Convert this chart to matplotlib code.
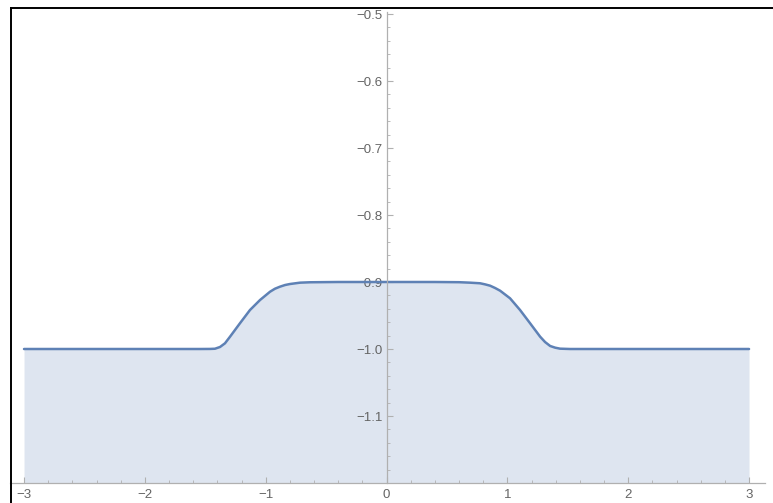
import matplotlib
matplotlib.use("Agg")
import matplotlib.pyplot as plt
from matplotlib.lines import Line2D
from matplotlib.ticker import MultipleLocator, FixedLocator

# Curve values
x_vals = [-3.0, -2.0, -1.6, -1.544, -1.461, -1.420, -1.378, -1.337, -1.295, -1.213, -1.130,
          -1.047, -0.964, -0.923, -0.882, -0.840, -0.799, -0.716, -0.633, -0.4, 0.0, 0.4,
          0.6, 0.691, 0.774, 0.815, 0.857, 0.899, 0.940, 1.022, 1.105, 1.188, 1.271, 1.312,
          1.354, 1.395, 1.436, 1.519, 1.6, 2.0, 3.0]
y_vals = [-1.0, -1.0, -1.0, -1.0, -0.9999, -0.9996, -0.9970, -0.9915, -0.9816, -0.9616, -0.9418,
          -0.9269, -0.9145, -0.9100, -0.9070, -0.9045, -0.9030, -0.9010, -0.9004, -0.9, -0.9, -0.9,
          -0.9003, -0.9010, -0.9019, -0.9035, -0.9055, -0.9090, -0.9130, -0.9243, -0.9418, -0.9616,
          -0.9816, -0.9896, -0.9955, -0.9980, -0.9995, -1.0, -1.0, -1.0, -1.0]
x_ticks = [-3, -2, -1, 0, 1, 2, 3]
y_ticks = [-1.1, -1.0, -0.9, -0.8, -0.7, -0.6, -0.5]
y_tick_labels = ["\u22121.1", "\u22121.0", "\u22120.9", "\u22120.8", "\u22120.7", "\u22120.6", "\u22120.5"]
x_tick_labels = ["\u22123", "\u22122", "\u22121", "0", "1", "2", "3"]

line_color = "#5E81B5"
axis_color = "#b0b0b0"
label_color = "#646464"

W, H = 773, 503
fig = plt.figure(figsize=(W / 100, H / 100), dpi=100)
left_px, right_px, top_px, bottom_px = 10, 765, 12, 483
ax = fig.add_axes([left_px / W, (H - bottom_px) / H, (right_px - left_px) / W, (bottom_px - top_px) / H])

ax.fill_between(x_vals, y_vals, -1.2, color=line_color, alpha=0.2, linewidth=0)
ax.plot(x_vals, y_vals, color=line_color, linewidth=1.8, solid_capstyle="round",
        solid_joinstyle="round")

ax.set_xlim(-3.116, 3.132)
ax.set_ylim(-1.2, -0.497)

for s in ["top", "right"]:
    ax.spines[s].set_visible(False)
ax.spines["left"].set_position(("data", 0))
ax.spines["bottom"].set_position(("data", -1.2))
for s in ["left", "bottom"]:
    ax.spines[s].set_color(axis_color)
    ax.spines[s].set_linewidth(0.9)

ax.xaxis.set_major_locator(FixedLocator(x_ticks))
ax.set_xticklabels(x_tick_labels)
ax.xaxis.set_minor_locator(MultipleLocator(0.2))
ax.yaxis.set_major_locator(FixedLocator(y_ticks))
ax.set_yticklabels(y_tick_labels)
ax.yaxis.set_minor_locator(MultipleLocator(0.02))

ax.tick_params(axis="both", which="major", direction="in", length=4.5, width=0.8,
               color=axis_color, labelcolor=label_color, labelsize=9.5)
ax.tick_params(axis="both", which="minor", direction="in", length=2.5, width=0.6,
               color=axis_color)
ax.tick_params(axis="x", which="major", pad=4.5)
ax.tick_params(axis="y", which="major", pad=3)
for lbl in ax.get_xticklabels() + ax.get_yticklabels():
    lbl.set_family(["Liberation Sans", "DejaVu Sans"])

ax.patch.set_visible(False)

# screenshot border (top and left)
fig.add_artist(Line2D([10.5 / W, 1.0], [1 - 7.5 / H, 1 - 7.5 / H], transform=fig.transFigure,
                      color="black", linewidth=1.4))
fig.add_artist(Line2D([10.5 / W, 10.5 / W], [0.0, 1 - 7.5 / H], transform=fig.transFigure,
                      color="black", linewidth=1.4))

fig.savefig("out.png", dpi=100)
